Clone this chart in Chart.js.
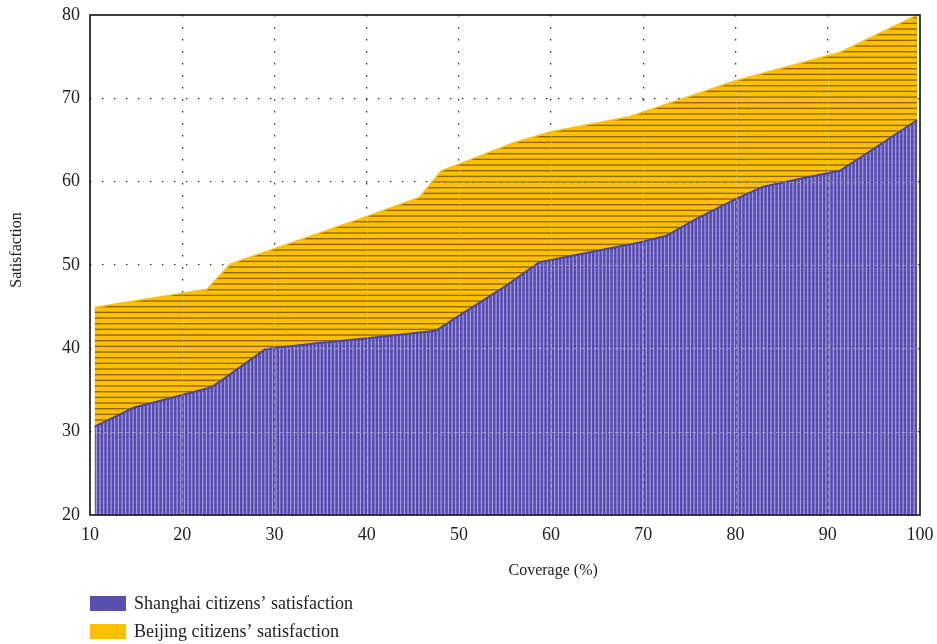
<!DOCTYPE html>
<html>
<head>
<meta charset="utf-8">
<title>Coverage vs satisfaction</title>
<script src="https://cdn.jsdelivr.net/npm/chart.js@4.4.1/dist/chart.umd.min.js"></script>
<style>
  html, body { margin: 0; padding: 0; background: #fff; }
  #wrap { position: relative; width: 937px; height: 644px; }
</style>
</head>
<body>
<div id="wrap"><canvas id="chart" width="937" height="644"></canvas></div>
<script>
// Axis ticks
const xTickValues = [10, 20, 30, 40, 50, 60, 70, 80, 90, 100];
const yTickValues = [20, 30, 40, 50, 60, 70, 80];

// Shanghai series (coverage %, satisfaction)
const shanghaiX = [10.5, 14.8, 16.9, 23.1, 24.2, 29.0, 34.6, 40.1, 47.5, 50.0, 55.1, 58.7, 62.3, 69.6, 72.5, 75.7, 80.0, 83.0, 87.7, 91.3, 95.2, 99.7];
const shanghaiY = [30.6, 32.9, 33.5, 35.3, 36.1, 39.9, 40.6, 41.2, 42.1, 43.9, 47.5, 50.3, 51.1, 52.7, 53.5, 55.5, 57.9, 59.4, 60.5, 61.3, 64.1, 67.4];

// Beijing series (coverage %, satisfaction)
const beijingX = [10.5, 22.7, 25.2, 39.2, 45.7, 48.1, 50.0, 53.7, 55.8, 60.0, 68.5, 80.0, 91.3, 99.7];
const beijingY = [44.9, 47.1, 50.1, 55.5, 58.1, 61.3, 62.1, 63.7, 64.6, 66.0, 67.8, 72.1, 75.5, 80.0];

const seriesLabels = ['Shanghai citizens\u2019 satisfaction', 'Beijing citizens\u2019 satisfaction'];
const xTitle = 'Coverage (%)';
const yTitle = 'Satisfaction';

const SERIF = '"Liberation Serif", "Times New Roman", serif';
const canvas = document.getElementById('chart');
const ctx = canvas.getContext('2d');

// Horizontal hatching on gold
function goldHatch() {
  const t = document.createElement('canvas');
  t.width = 4; t.height = 17;
  const g = t.getContext('2d');
  g.fillStyle = '#FFC000';
  g.fillRect(0, 0, t.width, t.height);
  g.fillStyle = 'rgba(110, 80, 0, 0.78)';
  for (let k = 0; k < 3; k++) g.fillRect(0, k * 17 / 3, t.width, 1.4);
  return ctx.createPattern(t, 'repeat');
}

// Vertical light hatching on violet blue
function blueHatch() {
  const t = document.createElement('canvas');
  t.width = 11; t.height = 17;
  const g = t.getContext('2d');
  g.fillStyle = '#5A50B2';
  g.fillRect(0, 0, t.width, t.height);
  g.fillStyle = 'rgba(45, 35, 120, 0.30)';
  for (let k = 0; k < 3; k++) g.fillRect(0, k * 17 / 3, t.width, 1.2);
  g.fillStyle = 'rgba(200, 192, 245, 0.75)';
  for (let k = 0; k < 3; k++) g.fillRect(k * 11 / 3 + 0.5, 0, 1.1, t.height);
  return ctx.createPattern(t, 'repeat');
}

const swatchColors = ['#5750AE', '#FFC000'];

const toPoints = (xs, ys) => xs.map((x, i) => ({ x, y: ys[i] }));

// Faint grid traces visible through the filled areas
const fillGrid = {
  id: 'fillGrid',
  afterDatasetsDraw(chart) {
    const meta = chart.getDatasetMeta(1);
    const pts = meta.data;
    if (!pts.length) return;
    const { ctx: c, chartArea: a, scales: { x, y } } = chart;
    c.save();
    c.beginPath();
    pts.forEach((p, i) => (i ? c.lineTo(p.x, p.y) : c.moveTo(p.x, p.y)));
    c.lineTo(pts[pts.length - 1].x, a.bottom);
    c.lineTo(pts[0].x, a.bottom);
    c.closePath();
    c.clip();
    c.strokeStyle = 'rgba(205, 200, 210, 0.45)';
    c.lineWidth = 1;
    c.setLineDash([4, 3]);
    y.ticks.forEach(t => {
      if (t.value <= y.min || t.value >= y.max) return;
      const py = Math.round(y.getPixelForValue(t.value)) + 0.5;
      c.beginPath(); c.moveTo(a.left, py); c.lineTo(a.right, py); c.stroke();
    });
    x.ticks.forEach(t => {
      if (t.value <= x.min || t.value >= x.max) return;
      const px = Math.round(x.getPixelForValue(t.value)) + 0.5;
      c.beginPath(); c.moveTo(px, a.top); c.lineTo(px, a.bottom); c.stroke();
    });
    c.restore();
  }
};

// Frame, axis titles and the stacked legend underneath
const frame = {
  id: 'frame',
  afterDraw(chart) {
    const { ctx: c, chartArea: a } = chart;
    c.save();
    c.strokeStyle = '#1e1e1e';
    c.lineWidth = 1.7;
    c.strokeRect(a.left, a.top, a.right - a.left, a.bottom - a.top);

    c.fillStyle = '#222';
    c.font = '16px ' + SERIF;
    c.textAlign = 'center';
    c.textBaseline = 'middle';
    c.fillText(xTitle, a.left + (a.right - a.left) * 0.558, a.bottom + 56);

    c.save();
    c.translate(17, a.top + (a.bottom - a.top) * 0.47);
    c.rotate(-Math.PI / 2);
    c.fillText(yTitle, 0, 0);
    c.restore();

    c.font = '18px ' + SERIF;
    c.textAlign = 'left';
    chart.data.datasets.forEach((ds, i) => {
      const top = a.bottom + 81 + i * 28;
      c.fillStyle = swatchColors[i];
      c.fillRect(a.left, top, 36, 15);
      c.fillStyle = '#222';
      c.fillText(ds.label, a.left + 44, top + 8);
    });
    c.restore();
  }
};

const gridColor = (ctxScr) => {
  const s = ctxScr.scale;
  const v = ctxScr.tick && ctxScr.tick.value;
  return (v === s.min || v === s.max) ? 'rgba(0,0,0,0)' : '#2a2a2a';
};

new Chart(ctx, {
  type: 'line',
  data: {
    datasets: [
      {
        label: seriesLabels[0],
        data: toPoints(shanghaiX, shanghaiY),
        borderColor: '#4B43A6',
        borderWidth: 2,
        backgroundColor: blueHatch(),
        fill: 'start',
        pointRadius: 0,
        tension: 0
      },
      {
        label: seriesLabels[1],
        data: toPoints(beijingX, beijingY),
        borderColor: '#FFC000',
        borderWidth: 1.5,
        backgroundColor: goldHatch(),
        fill: 'start',
        pointRadius: 0,
        tension: 0
      }
    ]
  },
  options: {
    responsive: false,
    animation: false,
    devicePixelRatio: 1,
    layout: { padding: { top: 15, right: 17, left: 0, bottom: 0 } },
    plugins: {
      legend: { display: false },
      tooltip: { enabled: false }
    },
    scales: {
      x: {
        type: 'linear',
        min: 10,
        max: 100,
        afterBuildTicks: (s) => { s.ticks = xTickValues.map(v => ({ value: v })); },
        afterFit: (s) => { s.height = 129; s.paddingLeft = 0; s.paddingRight = 0; },
        ticks: { color: '#222', font: { family: SERIF, size: 18 }, padding: 9, maxRotation: 0 },
        grid: { color: gridColor, lineWidth: 1.3, drawTicks: false },
        border: { display: false, dash: [1.4, 10.6] }
      },
      y: {
        type: 'linear',
        min: 20,
        max: 80,
        afterBuildTicks: (s) => { s.ticks = yTickValues.map(v => ({ value: v })); },
        afterFit: (s) => { s.width = 90; s.paddingTop = 0; s.paddingBottom = 0; },
        ticks: { color: '#222', font: { family: SERIF, size: 18 }, padding: 10 },
        grid: { color: gridColor, lineWidth: 1.3, drawTicks: false },
        border: { display: false, dash: [1.4, 10.6] }
      }
    }
  },
  plugins: [fillGrid, frame]
});
</script>
</body>
</html>
